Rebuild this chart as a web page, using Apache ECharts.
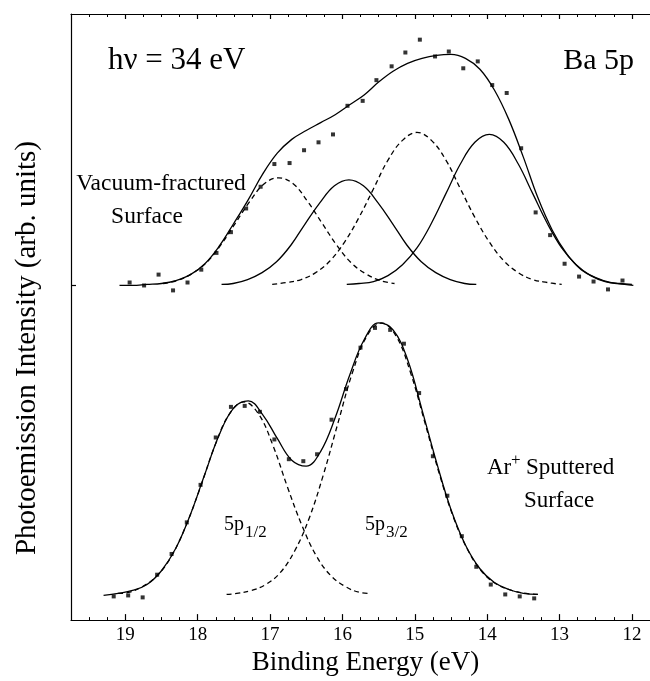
<!DOCTYPE html>
<html>
<head>
<meta charset="utf-8">
<script src="https://cdn.jsdelivr.net/npm/echarts@6/dist/echarts.min.js"></script>
<style>
html,body{margin:0;padding:0;background:#fff;}
#chart{width:650px;height:681px;}
</style>
</head>
<body>
<div id="chart"></div>
<script>
// ---------- data (binding energy in eV, intensity in arbitrary units) ----------
const majorTicks = [12, 13, 14, 15, 16, 17, 18, 19];
const yTickValues = [339];

// Vacuum-fractured surface (upper spectrum)
const upperDotsX = [18.94, 18.74, 18.54, 18.34, 18.14, 17.95, 17.74, 17.54, 17.33, 17.13, 16.94, 16.73, 16.53, 16.33, 16.13, 15.93, 15.72, 15.53, 15.32, 15.13, 14.93, 14.72, 14.53, 14.33, 14.13, 13.93, 13.73, 13.53, 13.33, 13.13, 12.93, 12.73, 12.53, 12.33, 12.13];
const upperDotsY = [342, 339, 350, 334, 342, 355, 372, 393, 417, 439, 462, 463, 476, 484, 492, 521, 526, 547, 561, 575, 588, 571, 576, 559, 566, 542, 534, 478, 413, 390, 361, 348, 343, 335, 344];

const upperFitX = [19.08, 18.9, 18.7, 18.5, 18.3, 18.1, 17.9, 17.7, 17.5, 17.3, 17.1, 16.9, 16.7, 16.5, 16.3, 16.1, 15.9, 15.7, 15.5, 15.3, 15.1, 14.9, 14.7, 14.5, 14.3, 14.1, 13.9, 13.7, 13.5, 13.3, 13.1, 12.9, 12.7, 12.5, 12.3, 12.1, 11.98];
const upperFitY = [339, 339, 340, 341, 344, 350, 361, 379, 402, 426, 452, 473, 487, 496, 504, 512, 522, 532, 545, 556, 564, 569, 572, 573, 569, 558, 537, 507, 469, 428, 395, 371, 355, 347, 342, 340, 339];

const upperD1X = [18.48, 18.28, 18.08, 17.88, 17.68, 17.48, 17.28, 17.08, 16.88, 16.68, 16.48, 16.28, 16.08, 15.88, 15.68, 15.48, 15.28];
const upperD1Y = [341, 344, 351, 362, 380, 402, 424, 442, 448, 442, 424, 402, 380, 362, 351, 344, 341];

const upperS1X = [17.67, 17.51, 17.31, 17.11, 16.91, 16.71, 16.51, 16.31, 16.11, 15.91, 15.71, 15.51, 15.31, 15.11, 14.91, 14.71, 14.51, 14.31, 14.15];
const upperS1Y = [340, 341, 345, 352, 363, 380, 402, 423, 440, 446, 440, 423, 402, 380, 363, 352, 345, 341, 340];

const upperD2X = [16.97, 16.77, 16.57, 16.37, 16.17, 15.97, 15.77, 15.57, 15.37, 15.17, 14.97, 14.77, 14.57, 14.37, 14.17, 13.97, 13.77, 13.57, 13.37, 13.17, 12.97];
const upperD2Y = [340, 342, 345, 352, 364, 383, 408, 437, 466, 486, 494, 486, 466, 437, 408, 383, 364, 352, 345, 342, 340];

const upperS2X = [15.94, 15.77, 15.57, 15.37, 15.17, 14.97, 14.77, 14.57, 14.37, 14.17, 13.97, 13.77, 13.57, 13.37, 13.17, 12.97, 12.77, 12.57, 12.37, 12.17, 12.0];
const upperS2Y = [340, 341, 343, 349, 360, 377, 402, 432, 462, 484, 492, 484, 462, 432, 402, 377, 360, 349, 343, 341, 340];

// Ar+ sputtered surface (lower spectrum)
const lowerDotsX = [19.16, 18.96, 18.76, 18.56, 18.36, 18.15, 17.96, 17.75, 17.54, 17.35, 17.14, 16.94, 16.74, 16.54, 16.35, 16.15, 15.95, 15.75, 15.55, 15.34, 15.15, 14.94, 14.75, 14.55, 14.35, 14.15, 13.95, 13.75, 13.55, 13.35];
const lowerDotsY = [24, 25, 23, 46, 67, 99, 137, 185, 216, 217, 211, 183, 163, 161, 168, 203, 234, 276, 296, 294, 280, 230, 166, 126, 85, 54, 36, 26, 24, 22];

const lowerFitX = [19.3, 19.1, 18.9, 18.7, 18.5, 18.3, 18.1, 17.9, 17.7, 17.5, 17.3, 17.1, 16.9, 16.7, 16.5, 16.3, 16.1, 15.9, 15.7, 15.5, 15.3, 15.1, 14.9, 14.7, 14.5, 14.3, 14.1, 13.9, 13.7, 13.5, 13.3];
const lowerFitY = [25, 27, 30, 36, 50, 73, 107, 148, 188, 215, 222, 208, 184, 162, 156, 171, 205, 248, 284, 301, 294, 264, 213, 160, 112, 76, 52, 38, 31, 27, 26];

const lowerP1X = [19.1, 18.96, 18.76, 18.56, 18.36, 18.16, 17.96, 17.76, 17.56, 17.36, 17.16, 16.96, 16.76, 16.56, 16.36, 16.16, 15.96, 15.76, 15.62];
const lowerP1Y = [27, 28, 34, 45, 65, 96, 135, 177, 209, 221, 209, 177, 135, 96, 65, 45, 34, 28, 27];

const lowerP3X = [17.6, 17.46, 17.26, 17.06, 16.86, 16.66, 16.46, 16.26, 16.06, 15.86, 15.66, 15.46, 15.26, 15.06, 14.86, 14.66, 14.46, 14.26, 14.06, 13.86, 13.66, 13.46, 13.3];
const lowerP3Y = [26, 27, 30, 36, 48, 70, 103, 148, 200, 251, 288, 301, 288, 251, 200, 148, 103, 70, 48, 36, 30, 27, 26];

// ---------- chart ----------
const FONT = '"Liberation Serif", "Times New Roman", serif';
const pairs = (xs, ys) => xs.map((x, i) => [x, ys[i]]);
const lineW = 1.3;
const solid = (name, xs, ys) => ({
  name, type: 'line', data: pairs(xs, ys), smooth: 0.4, showSymbol: false,
  lineStyle: { color: '#000', width: lineW }, z: 3
});
const dashed = (name, xs, ys) => ({
  name, type: 'line', data: pairs(xs, ys), smooth: 0.4, showSymbol: false,
  lineStyle: { color: '#000', width: lineW, type: [5, 3.5] }, z: 2
});
const dots = (name, xs, ys) => ({
  name, type: 'scatter', data: pairs(xs, ys), symbol: 'rect', symbolSize: 4,
  itemStyle: { color: '#000' }, z: 4
});

const axisLine = { show: true, lineStyle: { color: '#000', width: 1.2 } };
const xBase = { type: 'value', min: 11.75, max: 19.75, inverse: true, splitLine: { show: false } };

const chart = echarts.init(document.getElementById('chart'), null, { renderer: 'canvas' });
chart.setOption({
  animation: false,
  backgroundColor: '#fff',
  grid: { left: 71, right: 0, top: 14, bottom: 53, containLabel: false },
  xAxis: [
    Object.assign({}, xBase, {
      position: 'bottom', interval: 0.25,
      axisLine, axisTick: { inside: true, length: 3, lineStyle: { color: '#000', width: 1 } },
      axisLabel: { show: false }
    }),
    Object.assign({}, xBase, {
      position: 'bottom', axisLine: { show: false },
      axisTick: { show: true, inside: true, length: 6, customValues: majorTicks, lineStyle: { color: '#000', width: 1.2 } },
      axisLabel: { show: true, customValues: majorTicks, color: '#000', fontFamily: FONT, fontSize: 19, margin: 5 },
      name: 'Binding Energy (eV)', nameLocation: 'middle', nameGap: 18,
      nameTextStyle: { color: '#000', fontFamily: FONT, fontSize: 27, verticalAlign: 'top', padding: [0, 0, 0, 10] }
    }),
    Object.assign({}, xBase, {
      position: 'top', interval: 0.25,
      axisLine, axisTick: { inside: true, length: 3, lineStyle: { color: '#000', width: 1 } },
      axisLabel: { show: false }
    }),
    Object.assign({}, xBase, {
      position: 'top', axisLine: { show: false },
      axisTick: { show: true, inside: true, length: 5, customValues: majorTicks, lineStyle: { color: '#000', width: 1.2 } },
      axisLabel: { show: false }
    })
  ],
  yAxis: [{
    type: 'value', min: 0, max: 614, position: 'left',
    axisLine, splitLine: { show: false },
    axisTick: { show: true, inside: true, length: 5, customValues: yTickValues, lineStyle: { color: '#000', width: 1.2 } },
    axisLabel: { show: false }
  }],
  series: [
    dashed('Vacuum-fractured component 1', upperD1X, upperD1Y),
    dashed('Vacuum-fractured component 3', upperD2X, upperD2Y),
    solid('Vacuum-fractured component 2', upperS1X, upperS1Y),
    solid('Vacuum-fractured component 4', upperS2X, upperS2Y),
    solid('Vacuum-fractured fit', upperFitX, upperFitY),
    dots('Vacuum-fractured data', upperDotsX, upperDotsY),
    dashed('5p1/2', lowerP1X, lowerP1Y),
    dashed('5p3/2', lowerP3X, lowerP3Y),
    solid('Ar+ sputtered fit', lowerFitX, lowerFitY),
    dots('Ar+ sputtered data', lowerDotsX, lowerDotsY)
  ],
  graphic: [
    { type: 'text', x: 27, y: 348, rotation: Math.PI / 2,
      style: { text: 'Photoemission Intensity (arb. units)', font: '29px ' + FONT, fill: '#000', textAlign: 'center', textVerticalAlign: 'middle' } },
    { type: 'text', x: 108, y: 61,
      style: { text: 'h\u03bd = 34 eV', font: '31px ' + FONT, fill: '#000', textAlign: 'left', textVerticalAlign: 'middle' } },
    { type: 'text', x: 634, y: 61,
      style: { text: 'Ba 5p', font: '30px ' + FONT, fill: '#000', textAlign: 'right', textVerticalAlign: 'middle' } },
    { type: 'text', x: 161, y: 184,
      style: { text: 'Vacuum-fractured', font: '23.5px ' + FONT, fill: '#000', textAlign: 'center', textVerticalAlign: 'middle' } },
    { type: 'text', x: 147, y: 217,
      style: { text: 'Surface', font: '23.5px ' + FONT, fill: '#000', textAlign: 'center', textVerticalAlign: 'middle' } },
    { type: 'text', x: 487, y: 468,
      style: { text: 'Ar', font: '23px ' + FONT, fill: '#000', textAlign: 'left', textVerticalAlign: 'middle' } },
    { type: 'text', x: 511, y: 461,
      style: { text: '+', font: '17px ' + FONT, fill: '#000', textAlign: 'left', textVerticalAlign: 'middle' } },
    { type: 'text', x: 526, y: 468,
      style: { text: 'Sputtered', font: '23px ' + FONT, fill: '#000', textAlign: 'left', textVerticalAlign: 'middle' } },
    { type: 'text', x: 559, y: 501,
      style: { text: 'Surface', font: '23px ' + FONT, fill: '#000', textAlign: 'center', textVerticalAlign: 'middle' } },
    { type: 'text', x: 224, y: 525,
      style: { text: '5p', font: '20px ' + FONT, fill: '#000', textAlign: 'left', textVerticalAlign: 'middle' } },
    { type: 'text', x: 245, y: 533,
      style: { text: '1/2', font: '17px ' + FONT, fill: '#000', textAlign: 'left', textVerticalAlign: 'middle' } },
    { type: 'text', x: 365, y: 525,
      style: { text: '5p', font: '20px ' + FONT, fill: '#000', textAlign: 'left', textVerticalAlign: 'middle' } },
    { type: 'text', x: 386, y: 533,
      style: { text: '3/2', font: '17px ' + FONT, fill: '#000', textAlign: 'left', textVerticalAlign: 'middle' } }
  ]
});
</script>
</body>
</html>
